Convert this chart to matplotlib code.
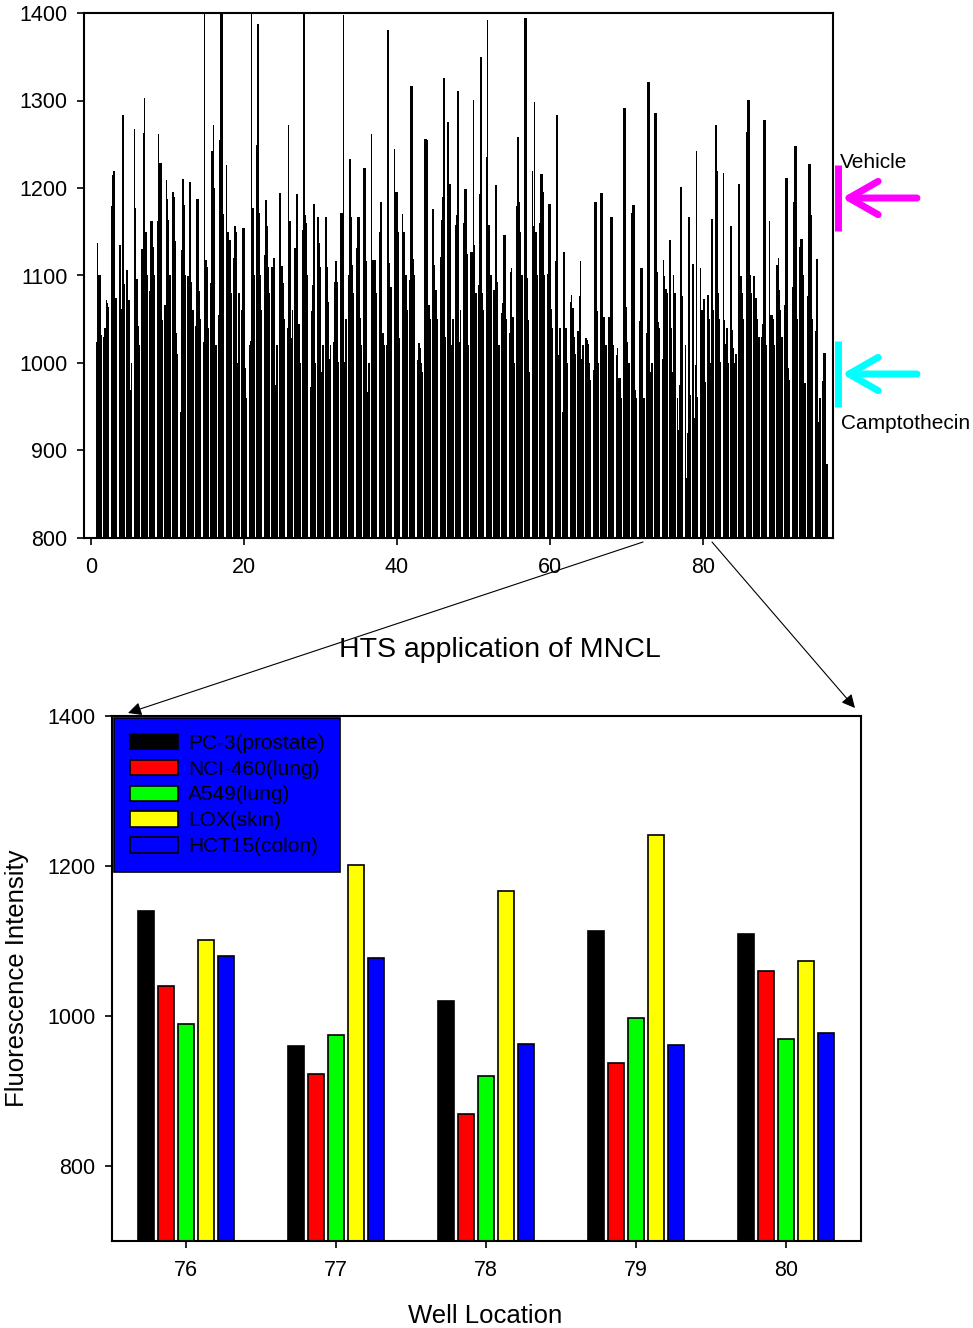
import numpy as np
import matplotlib
matplotlib.use('Agg')
import matplotlib.pyplot as plt

plt.rcParams['font.family'] = ['Liberation Sans', 'DejaVu Sans']

# ---- top panel: 96 wells, 5 cell lines per well
pc3_all = [1024, 1030, 1179, 1135, 1106, 1267, 1130, 1082, 1162, 1066, 1196, 944,
           1099, 1042, 1024, 1091, 1055, 1226, 1120, 1061, 1021, 1249, 1123, 1110,
           1194, 1040, 1131, 1152, 973, 1167, 1167, 1024, 1171, 1101, 1131, 1223,
           1262, 1150, 1021, 1245, 1170, 1095, 1003, 1256, 1176, 1121, 1275, 1158,
           1160, 1127, 1089, 1235, 1083, 1057, 1034, 1179, 1394, 1220, 1160, 1102,
           1116, 944, 1070, 1036, 1028, 992, 1194, 1053, 1009, 1291, 1171, 1048,
           1034, 1286, 1005, 1140, 960, 1020, 1113, 1109, 1078, 1272, 1217, 1157,
           1205, 1264, 1099, 1030, 1162, 1112, 1066, 1087, 1132, 1076, 1037, 979]
nci_all = [1137, 1040, 1215, 1135, 1072, 1177, 1263, 1162, 1262, 1209, 1190, 1129,
           1207, 1188, 1420, 1242, 1255, 1150, 1157, 1154, 1025, 1387, 1186, 1120,
           1111, 1272, 1193, 1420, 1059, 1137, 1110, 1093, 1171, 1233, 1167, 1223,
           1118, 1184, 1381, 1196, 1150, 1317, 1023, 1256, 1112, 1163, 1205, 1169,
           1199, 1127, 1193, 1392, 1204, 1068, 1104, 1258, 1394, 1157, 1216, 1182,
           1284, 1127, 1078, 1076, 1026, 1184, 1194, 1000, 1017, 1291, 1181, 1108,
           1321, 1286, 1118, 1040, 923, 869, 937, 1060, 1050, 1219, 1049, 1038,
           1099, 1301, 1074, 1045, 1055, 1120, 1212, 1184, 1142, 1227, 1119, 1011]
a549_all = [1101, 1072, 1220, 1062, 1072, 1096, 1303, 1162, 1229, 1188, 1139, 1210,
            1207, 1188, 1118, 1272, 1420, 1150, 1150, 1154, 1420, 1171, 1157, 1120,
            1111, 1162, 1193, 1169, 1089, 1110, 1070, 1116, 1398, 1167, 1167, 1116,
            1118, 1184, 1114, 1196, 1150, 1317, 1017, 1255, 1083, 1190, 1205, 1311,
            1199, 1301, 1350, 1158, 1204, 1146, 1108, 1184, 1097, 1298, 1216, 1182,
            1284, 1040, 1063, 1117, 1022, 1184, 1052, 1167, 983, 1064, 1181, 1108,
            1321, 1104, 1099, 990, 975, 920, 998, 969, 1000, 1080, 1022, 1017,
            1099, 1301, 1074, 1278, 1055, 1083, 1212, 1248, 1142, 1227, 1119, 1011]
lox_all = [1101, 1068, 1074, 1283, 969, 1042, 1150, 1133, 1229, 1163, 1034, 1181,
           1093, 1082, 1110, 1200, 1410, 1140, 1000, 994, 1177, 1100, 1110, 975,
           1091, 1028, 1045, 1160, 1182, 990, 1005, 1093, 1001, 1112, 1051, 967,
           1118, 1034, 1087, 1150, 1100, 1119, 1000, 1066, 1083, 1326, 1021, 1024,
           1125, 1135, 1080, 1060, 1093, 1146, 1053, 1150, 1049, 1150, 1196, 1062,
           1009, 1040, 1030, 1005, 1000, 1059, 1052, 1167, 983, 1024, 969, 944,
           990, 1047, 1085, 1101, 1201, 1167, 1242, 1073, 1165, 1050, 1040, 1000,
           1080, 1100, 1050, 1278, 1050, 1060, 994, 1248, 1100, 1169, 933, 885]
hct_all = [1032, 1064, 1074, 1090, 1000, 1020, 1100, 1100, 1049, 1100, 1010, 1100,
           1060, 1050, 1040, 1020, 1170, 1080, 1080, 960, 1100, 1060, 1080, 1020,
           1050, 1060, 1000, 1100, 1000, 1020, 1020, 1001, 1050, 1080, 1020, 1000,
           1080, 1021, 1087, 1028, 1060, 1100, 990, 1050, 1050, 1030, 1050, 1060,
           1020, 1080, 1060, 1100, 1020, 1050, 1000, 1100, 990, 1100, 1100, 1040,
           1040, 1000, 1010, 1020, 980, 1000, 1020, 1020, 960, 1000, 960, 960,
           1000, 1040, 1080, 1080, 1077, 963, 961, 978, 1060, 1001, 1000, 1010,
           1050, 1080, 1030, 1020, 1020, 1030, 980, 1050, 977, 1050, 960, 885]

# ---- bottom panel: zoom on wells 76-80
zoom_wells = [76, 77, 78, 79, 80]
cell_lines = ['PC-3(prostate)', 'NCI-460(lung)', 'A549(lung)', 'LOX(skin)', 'HCT15(colon)']
line_colors = ['#000000', '#ff0000', '#00ff00', '#ffff00', '#0000ff']
pc3 = [1140, 960, 1020, 1113, 1109]
nci460 = [1040, 923, 869, 937, 1060]
a549 = [990, 975, 920, 998, 969]
lox = [1101, 1201, 1167, 1242, 1073]
hct15 = [1080, 1077, 963, 961, 978]

W, H = 973, 1328
fig = plt.figure(figsize=(W / 100, H / 100), dpi=100)

# top plate overview
ax1 = fig.add_axes([84 / W, 1 - 538 / H, 749 / W, 525 / H])
wells = np.arange(1, 97)
bw = 0.156
for i, vals in enumerate([pc3_all, nci_all, a549_all, lox_all, hct_all]):
    # a touch wider than the step so the five bars of a well merge into one block
    ax1.bar(wells + (i - 2) * bw, vals, width=bw * 1.25, color='black', linewidth=0)
ax1.set_xlim(-0.92, 97.0)
ax1.set_ylim(800, 1400)
ax1.set_xticks([0, 20, 40, 60, 80])
ax1.set_yticks(range(800, 1401, 100))
ax1.tick_params(axis='both', direction='out', length=5, width=1.2, labelsize=15.5)
ax1.tick_params(axis='x', pad=9)
ax1.tick_params(axis='y', pad=7)
for s in ax1.spines.values():
    s.set_linewidth(1.5)

# bottom grouped bars
ax2 = fig.add_axes([112 / W, 1 - 1241 / H, 749 / W, 525 / H])
x = np.array(zoom_wells)
step = 0.1333
for i, (vals, name, c) in enumerate(zip([pc3, nci460, a549, lox, hct15], cell_lines, line_colors)):
    ax2.bar(x + (i - 2) * step, vals, width=0.107, color=c, edgecolor='black',
            linewidth=1.2, label=name)
ax2.set_xlim(75.507, 80.5)
ax2.set_ylim(700, 1400)
ax2.set_xticks(zoom_wells)
ax2.set_yticks([800, 1000, 1200, 1400])
ax2.tick_params(axis='both', direction='out', length=5, width=1.2, labelsize=15.5)
ax2.tick_params(axis='x', pad=9)
ax2.tick_params(axis='y', pad=7)
for s in ax2.spines.values():
    s.set_linewidth(1.5)
leg = ax2.legend(loc='upper left', facecolor='#0000ff', edgecolor='black', framealpha=1,
                 fancybox=False, fontsize=15, handlelength=2.3, handleheight=0.75,
                 labelspacing=0.33, handletextpad=0.5, borderpad=0.75, borderaxespad=0.1)
leg.get_frame().set_linewidth(1.2)

# texts
fig.text(500 / W, 1 - 650 / H, 'HTS application of MNCL', ha='center', va='center', fontsize=20.5)
fig.text(17 / W, 1 - 978 / H, 'Fluorescence Intensity', rotation=90, ha='center', va='center', fontsize=18.5)
fig.text(485 / W, 1 - 1316 / H, 'Well Location', ha='center', va='center', fontsize=18.5)
fig.text(840 / W, 1 - 162 / H, 'Vehicle', ha='left', va='center', fontsize=15)
fig.text(841 / W, 1 - 423 / H, 'Camptothecin', ha='left', va='center', fontsize=15)

# overlay in pixel coords for the annotation arrows
ov = fig.add_axes([0, 0, 1, 1])
ov.set_xlim(0, W)
ov.set_ylim(H, 0)
ov.axis('off')

for y0, col in [(198, '#ff00ff'), (374, '#00ffff')]:
    ov.plot([838, 838], [y0 - 33, y0 + 33], color=col, lw=5, solid_capstyle='butt')
    ov.annotate('', xy=(842, y0), xytext=(917, y0),
                arrowprops=dict(arrowstyle='->,head_length=2.1,head_width=1.2',
                                lw=5, color=col, mutation_scale=10,
                                shrinkA=0, shrinkB=0))

ov.annotate('', xy=(128, 713), xytext=(643, 542),
            arrowprops=dict(arrowstyle='-|>', lw=0.8, color='black', mutation_scale=20,
                            shrinkA=0, shrinkB=0))
ov.annotate('', xy=(855, 708), xytext=(712, 542),
            arrowprops=dict(arrowstyle='-|>', lw=0.8, color='black', mutation_scale=20,
                            shrinkA=0, shrinkB=0))

fig.savefig('out.png', dpi=100)
